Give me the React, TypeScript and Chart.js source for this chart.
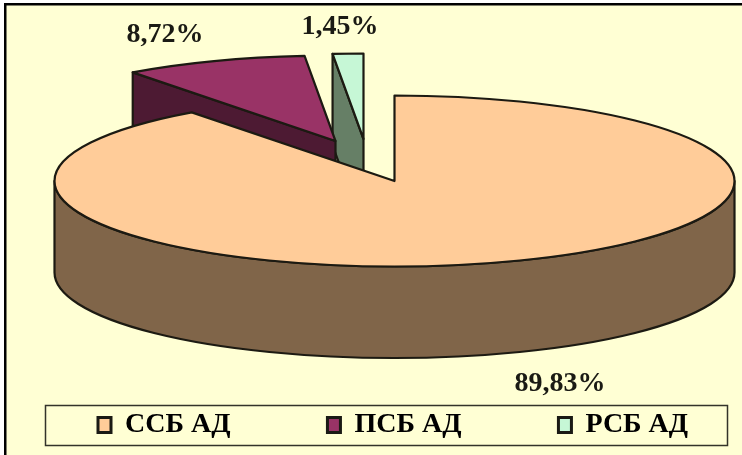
import React, { useEffect, useRef } from "react";
import { Chart, registerables } from "chart.js";

Chart.register(...registerables);

const categories = ["ССБ АД", "ПСБ АД", "РСБ АД"];
const shares = [89.83, 8.72, 1.45];
const topColors = ["#FFCC99", "#993366", "#C6F7D6"];
const wallColors = ["#806549", "#4D1A33", "#667F66"];
const lift = [
  { x: 0, y: 0 },
  { x: -59, y: -40 },
  { x: -31, y: -42 },
];
const labelSpots = [
  { x: 560, y: 384 },
  { x: 165, y: 35 },
  { x: 340, y: 27 },
];

const CENTER_X = 394.5;
const CENTER_Y = 181;
const RADIUS = 340;
const SQUASH = 85.5 / 340;
const DEPTH = 91.5;
const OUTLINE = "#1c1a12";
const LEGEND_GAP = 97;

const pie3d = {
  id: "pie3d",
  beforeDraw(chart: any) {
    const { ctx } = chart;
    ctx.save();
    ctx.fillStyle = "#ffffff";
    ctx.fillRect(0, 0, chart.width, chart.height);
    ctx.fillStyle = "#FFFFD4";
    ctx.fillRect(5, 4, chart.width - 5, chart.height - 4);
    ctx.fillStyle = "#000000";
    ctx.fillRect(4, 3, chart.width - 4, 2.5);
    ctx.fillRect(4, 3, 2.5, chart.height - 3);
    ctx.lineWidth = 1.5;
    ctx.strokeStyle = "#33332a";
    ctx.strokeRect(45.5, 405.5, 682, 40);
    ctx.restore();
  },
  afterLayout(chart: any) {
    // One legend row, spread across the framed strip near the bottom.
    const legend = chart.legend;
    legend.left = 98 - LEGEND_GAP;
    legend.right = 2000;
    legend.top = 411 - LEGEND_GAP;
    legend.bottom = chart.height;
  },
  beforeDatasetDraw(chart: any, args: any) {
    const { ctx } = chart;
    const arcs = args.meta.data;
    // Back slices first so the large slice overlaps them.
    [2, 1, 0].forEach((i) => {
      const arc = arcs[i];
      const { startAngle, endAngle, outerRadius } = arc.getProps(["startAngle", "endAngle", "outerRadius"]);
      const cx = CENTER_X + lift[i].x;
      const cy = CENTER_Y + lift[i].y;
      const ry = outerRadius * SQUASH;
      ctx.save();
      ctx.lineWidth = 2.2;
      ctx.lineJoin = "round";
      ctx.strokeStyle = OUTLINE;

      // Side wall
      ctx.fillStyle = wallColors[i];
      ctx.beginPath();
      if (i === 0) {
        ctx.ellipse(cx, cy, outerRadius, ry, 0, 0, Math.PI);
        ctx.ellipse(cx, cy + DEPTH, outerRadius, ry, 0, Math.PI, 0, true);
      } else {
        const ox = cx + outerRadius * Math.cos(startAngle);
        const oy = cy + ry * Math.sin(startAngle);
        ctx.moveTo(ox, oy);
        ctx.lineTo(cx, cy);
        ctx.lineTo(cx, cy + DEPTH);
        ctx.lineTo(ox, oy + DEPTH);
      }
      ctx.closePath();
      ctx.fill();
      ctx.stroke();

      // Top face, drawn by the arc element under a flattening transform
      ctx.save();
      ctx.translate(cx, cy);
      ctx.scale(1, SQUASH);
      ctx.translate(-arc.x, -arc.y);
      arc.draw(ctx);
      ctx.restore();

      ctx.beginPath();
      ctx.moveTo(cx, cy);
      ctx.ellipse(cx, cy, outerRadius, ry, 0, startAngle, endAngle);
      ctx.closePath();
      ctx.stroke();
      ctx.restore();
    });

    ctx.save();
    ctx.fillStyle = "#1a1a14";
    ctx.font = "bold 28px 'Liberation Serif'";
    ctx.textAlign = "center";
    ctx.textBaseline = "middle";
    shares.forEach((v, i) => {
      ctx.fillText(v.toFixed(2).replace(".", ",") + "%", labelSpots[i].x, labelSpots[i].y);
    });
    ctx.restore();
    return false;
  },
};

export default function App() {
  const ref = useRef<HTMLCanvasElement>(null);
  useEffect(() => {
    const chart = new Chart(ref.current as HTMLCanvasElement, {
      type: "pie",
      data: {
        labels: categories,
        datasets: [{ data: shares, backgroundColor: topColors, borderWidth: 0 }],
      },
      options: {
        animation: false,
        responsive: false,
        radius: RADIUS,
        plugins: {
          tooltip: { enabled: false },
          legend: {
            position: "bottom",
            align: "start",
            labels: {
              color: "#1a1a14",
              font: { family: "'Liberation Serif'", size: 28, weight: "bold" },
              boxWidth: 13,
              boxHeight: 15,
              padding: LEGEND_GAP,
              generateLabels: () =>
                categories.map((text, i) => ({
                  text,
                  fillStyle: topColors[i],
                  strokeStyle: "#1a1a14",
                  lineWidth: 3,
                  index: i,
                })),
            },
          },
        },
      },
      plugins: [pie3d],
    } as any);
    return () => chart.destroy();
  }, []);
  return (
    <div style={{ position: "fixed", left: 0, top: 0 }}>
      <canvas ref={ref} width={742} height={455} style={{ display: "block" }} />
    </div>
  );
}
